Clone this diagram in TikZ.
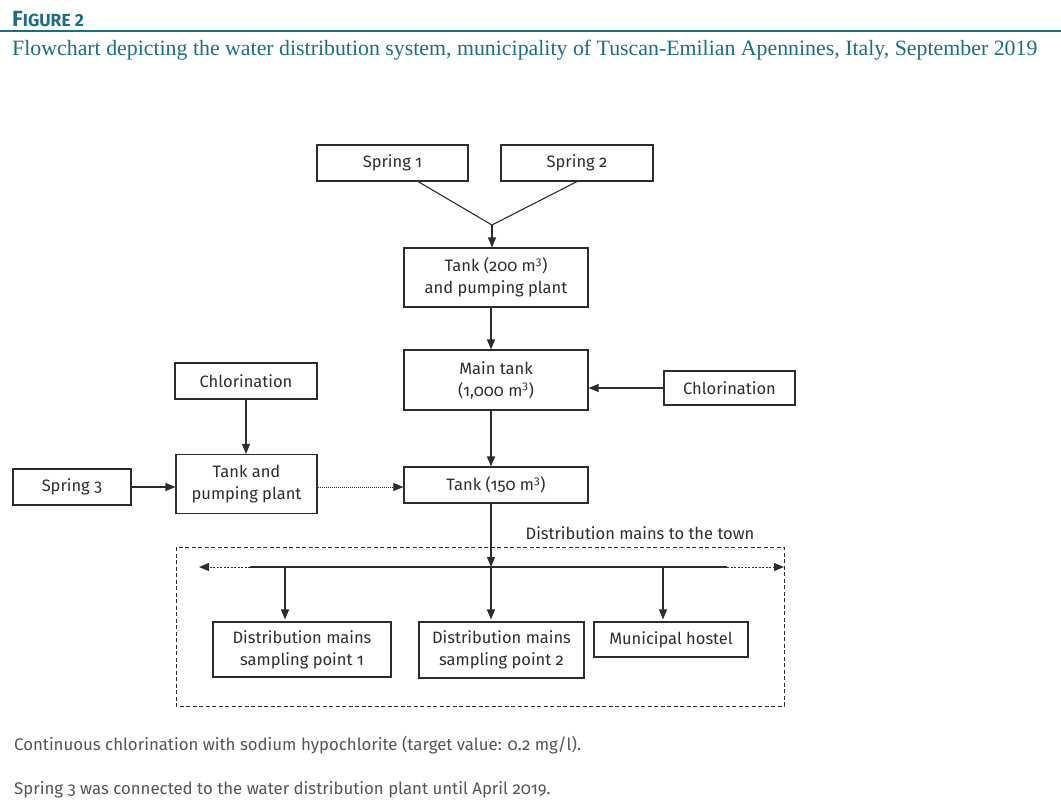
\documentclass[tikz,border=0pt]{standalone}
\usepackage{fontspec}
\setmainfont{Fira Sans}[Numbers=OldStyle]
\newfontfamily\titlefont{Liberation Serif}
\newfontfamily\headfont{Fira Sans}
\usetikzlibrary{arrows.meta,calc}
\definecolor{teal1}{RGB}{27,110,132}
\definecolor{ink}{RGB}{45,45,45}
\definecolor{note}{RGB}{85,85,85}
\begin{document}
\begin{tikzpicture}[x=1pt,y=-1pt,
  box/.style={draw=ink, line width=1.1pt, align=center, inner sep=0pt,
    text=ink, font=\fontsize{16.5}{22}\selectfont},
  arr/.style={draw=ink, line width=1.1pt, -{Triangle[length=10pt,width=8pt]}},
  ln/.style={draw=ink, line width=1.1pt},
  darr/.style={draw=ink, line width=1pt, dash pattern=on 2pt off 1.5pt, -{Triangle[length=10pt,width=8pt]}},
  dotarr/.style={draw=ink, line width=1pt, dash pattern=on 1pt off 1pt, -{Triangle[length=10pt,width=8pt]}}]
\useasboundingbox (0,0) rectangle (1061,811);
% header
\node[anchor=base west, inner sep=0pt, text=teal1, font=\headfont\bfseries] (fig) at (12,26)
  {\fontsize{22}{22}\selectfont F\fontsize{17.5}{22}\selectfont IGURE 2};
\draw[teal1, line width=2pt] (0,31) -- (1061,31);
\node[anchor=base west, inner sep=0pt, text=teal1, font=\titlefont\fontsize{21.85}{24}\selectfont] (title) at (12,55)
  {Flowchart depicting the water distribution system, municipality of Tuscan-Emilian Apennines, Italy, September 2019};
% boxes
\node[box, minimum width=151pt, minimum height=36pt] (s1) at (392.5,163) {Spring 1};
\node[box, minimum width=152pt, minimum height=36pt] (s2) at (577,163) {Spring 2};
\node[box, minimum width=184pt, minimum height=59pt] (t200) at (496,277.5) {Tank (200 m\textsuperscript{3})\\and pumping plant};
\node[box, minimum width=184pt, minimum height=60pt] (main) at (496,380) {Main tank\\(1,000 m\textsuperscript{3})};
\node[box, minimum width=131pt, minimum height=34pt] (chlR) at (729.5,388) {Chlorination};
\node[box, minimum width=142pt, minimum height=36pt] (chlL) at (246,381) {Chlorination};
\node[box, minimum width=141pt, minimum height=59pt] (tp) at (246.5,484) {Tank and\\pumping plant};
\node[box, minimum width=118pt, minimum height=36pt] (sp3) at (72,487) {Spring 3};
\node[box, minimum width=184pt, minimum height=36pt] (t150) at (496,485) {Tank (150 m\textsuperscript{3})};
\node[box, minimum width=178pt, minimum height=55pt] (d1) at (302,649.5) {Distribution mains\\sampling point 1};
\node[box, minimum width=165pt, minimum height=56pt] (d2) at (501.5,650) {Distribution mains\\sampling point 2};
\node[box, minimum width=154pt, minimum height=35pt] (mh) at (671,639.5) {Municipal hostel};
% frame
\draw[ink, line width=1pt, dash pattern=on 4pt off 2.5pt] (176,547) rectangle (784,706);
\node[anchor=center, inner sep=0pt, text=ink, font=\fontsize{16.5}{18}\selectfont] (lab) at (640,533) {Distribution mains to the town};
% junction coordinates
\coordinate (j) at (492,225);
\coordinate (a1) at ($(s1.south)+(25.5,0)$);
\coordinate (busL) at (199,567);
\coordinate (busR) at (784,567);
\coordinate (sL) at (250,567);
\coordinate (sR) at (727,567);
\coordinate (b1) at (285,567);
\coordinate (b2) at (491,567);
\coordinate (b3) at (663,567);
% connectors
\draw[ln] (a1) -- (j);
\draw[ln] (s2.south) -- (j);
\draw[arr] (j) -- (j |- t200.north);
\draw[arr] (t200.south -| b2) -- (main.north -| b2);
\draw[arr] (chlR.west) -- (chlR.west -| main.east);
\draw[arr] (main.south -| b2) -- (t150.north -| b2);
\draw[arr] (chlL.south) -- (chlL.south |- tp.north);
\draw[arr] (sp3.east) -- (sp3.east -| tp.west);
\draw[dotarr] (tp.east |- sp3.east) -- (sp3.east -| t150.west);
\draw[arr] (t150.south -| b2) -- (b2);
\draw[ln] (sL) -- (sR);
\draw[darr] (sL) -- (busL);
\draw[darr] (sR) -- (busR);
\draw[arr] (b1) -- ($(b1 |- d1.north)+(0,-2)$);
\draw[arr] (b2) -- ($(b2 |- d2.north)+(0,-2)$);
\draw[arr] (b3) -- ($(b3 |- mh.north)+(0,-2)$);
% notes
\node[anchor=west, inner sep=0pt, text=note, font=\fontsize{16.8}{18}\selectfont] (n1) at (14,745) {Continuous chlorination with sodium hypochlorite (target value: 0.2 mg/l).};
\node[anchor=west, inner sep=0pt, text=note, font=\fontsize{16.8}{18}\selectfont] (n2) at (14,790) {Spring 3 was connected to the water distribution plant until April 2019.};
\end{tikzpicture}
\end{document}
